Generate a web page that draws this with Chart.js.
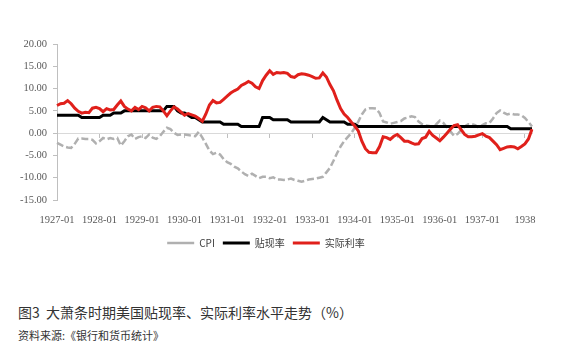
<!DOCTYPE html>
<html><head><meta charset="utf-8">
<script src="https://cdn.jsdelivr.net/npm/chart.js@4.4.1/dist/chart.umd.min.js"></script>
<style>
html,body{margin:0;padding:0;background:#fff;}
#wrap{position:relative;width:573px;height:363px;overflow:hidden;}
#c{position:absolute;left:0;top:0;}
.cap{position:absolute;font-family:"Noto Sans CJK SC",sans-serif;color:#333;white-space:nowrap;}
#t1{left:18px;top:302px;font-size:14px;}
#t2{left:18px;top:327px;font-size:11px;}
</style></head>
<body><div id="wrap"><canvas id="c" width="573" height="262"></canvas>
<div class="cap" id="t1">图3&nbsp; 大萧条时期美国贴现率、实际利率水平走势（%）</div>
<div class="cap" id="t2">资料来源:《银行和货币统计》</div></div>
<script>
// monthly categories 1927-01 .. 1938-03
const startYear = 1927, monthCount = 135;
const months = [];
for (let i = 0; i < monthCount; i++) {
  const y = startYear + Math.floor(i / 12), m = (i % 12) + 1;
  months.push(y + '-' + (m < 10 ? '0' + m : m));
}
const yearTickLabels = ['1927-01','1928-01','1929-01','1930-01','1931-01','1932-01','1933-01','1934-01','1935-01','1936-01','1937-01','1938'];
const yTicks = [-15, -10, -5, 0, 5, 10, 15, 20];

const cpi = [
 -2.2,-2.6,-3.0,-3.2,-3.3,-2.4,-1.2,-1.2,-1.3,-1.3,-1.5,-2.3,
 -1.8,-1.1,-1.4,-1.1,-1.3,-1.1,-2.8,-1.8,-0.7,-0.3,-1.3,-0.9,
 -0.7,-1.1,-0.3,-1.0,-1.3,-0.7,0.3,1.2,0.9,0.1,-0.4,-0.3,
 -0.3,-0.4,-0.6,-0.7,0.3,-1.0,-2.4,-3.9,-4.7,-4.4,-4.8,-5.8,
 -6.5,-6.9,-7.5,-7.9,-8.6,-9.2,-9.6,-9.1,-9.6,-10.1,-9.8,-9.8,
 -10.1,-9.9,-10.4,-10.4,-10.5,-10.4,-10.2,-10.5,-10.7,-10.9,-10.7,-10.4,
 -10.3,-10.2,-10.0,-9.8,-8.8,-7.8,-6.2,-4.5,-3.0,-1.8,-0.9,0.0,
 1.2,2.6,4.2,5.3,5.6,5.6,5.5,4.5,2.6,2.4,2.1,2.3,
 2.5,2.7,3.3,3.5,3.8,3.6,2.6,2.0,1.7,1.6,1.4,2.0,
 2.8,2.3,1.3,0.4,-0.6,-0.2,0.7,1.5,2.0,2.0,1.8,1.2,
 1.8,2.2,2.3,3.3,4.5,5.1,4.6,4.2,4.4,4.2,4.2,4.0,
 3.4,2.5,1.5
];
const discountRate = [
 4.0,4.0,4.0,4.0,4.0,4.0,4.0,3.5,3.5,3.5,3.5,3.5,
 3.5,4.0,4.0,4.0,4.5,4.5,4.5,5.0,5.0,5.0,5.0,5.0,
 5.0,5.0,5.0,5.0,5.0,5.0,5.0,6.0,6.0,6.0,5.0,4.5,
 4.5,4.0,3.5,3.5,3.0,2.5,2.5,2.5,2.5,2.5,2.5,2.0,
 2.0,2.0,2.0,2.0,1.5,1.5,1.5,1.5,1.5,1.5,3.5,3.5,
 3.5,3.0,3.0,3.0,3.0,3.0,2.5,2.5,2.5,2.5,2.5,2.5,
 2.5,2.5,2.5,3.5,3.0,2.5,2.5,2.5,2.5,2.5,2.0,2.0,
 2.0,1.5,1.5,1.5,1.5,1.5,1.5,1.5,1.5,1.5,1.5,1.5,
 1.5,1.5,1.5,1.5,1.5,1.5,1.5,1.5,1.5,1.5,1.5,1.5,
 1.5,1.5,1.5,1.5,1.5,1.5,1.5,1.5,1.5,1.5,1.5,1.5,
 1.5,1.5,1.5,1.5,1.5,1.5,1.5,1.5,1.0,1.0,1.0,1.0,
 1.0,1.0,1.0
];
const realRate = [
 6.2,6.6,6.7,7.3,6.6,5.6,4.9,4.5,4.7,4.6,5.6,5.8,
 5.5,4.8,5.5,5.2,5.3,6.3,7.2,6.0,5.4,5.0,5.8,5.3,
 6.0,5.7,5.0,5.8,6.0,5.9,5.0,3.9,5.0,5.9,5.4,4.7,
 4.0,4.4,4.1,3.8,3.3,2.7,4.3,6.3,7.3,6.8,6.9,7.6,
 8.3,9.0,9.5,9.9,10.7,11.1,11.6,11.2,10.4,10.0,11.8,13.0,
 14.0,13.2,13.6,13.5,13.6,13.4,12.7,12.5,13.1,13.3,13.2,13.0,
 12.7,12.3,12.4,13.5,12.6,10.9,9.5,7.4,5.5,4.3,3.5,2.5,
 1.6,0.5,-1.8,-3.5,-4.3,-4.4,-4.4,-3.0,-0.8,-1.0,-1.4,-0.7,
 -0.3,-1.0,-1.8,-1.8,-2.2,-2.5,-2.4,-1.2,-0.9,0.4,-0.5,-1.1,
 -1.7,-0.9,0.0,0.9,1.7,1.9,0.8,-0.3,-0.8,-0.8,-0.7,-0.4,
 -0.1,-0.7,-1.0,-1.8,-2.6,-3.7,-3.4,-3.1,-3.0,-3.1,-3.5,-3.0,
 -2.4,-1.3,0.9
];

const tickFont = {family: '"Liberation Serif", "Times New Roman", serif', size: 10.5};
const tickColor = '#595959';

new Chart(document.getElementById('c'), {
  type: 'line',
  data: {
    labels: months,
    datasets: [
      {label: 'CPI', data: cpi, borderColor: '#b0b0b0', backgroundColor: '#b0b0b0', borderWidth: 2.5, borderDash: [7, 3], pointRadius: 0, order: 3},
      {label: '贴现率', data: discountRate, borderColor: '#000000', backgroundColor: '#000000', borderWidth: 3, pointRadius: 0, order: 2},
      {label: '实际利率', data: realRate, borderColor: '#e0201b', backgroundColor: '#e0201b', borderWidth: 3, pointRadius: 0, order: 1}
    ]
  },
  options: {
    responsive: false,
    animation: false,
    layout: {padding: {left: 0, right: 41, top: 44, bottom: 4}},
    plugins: {
      tooltip: {enabled: false},
      legend: {
        position: 'bottom',
        labels: {
          usePointStyle: true, pointStyle: 'line', pointStyleWidth: 27,
          padding: 8, color: '#404040',
          font: {family: '"Noto Sans CJK SC", sans-serif', size: 10},
          sort: (a, b) => a.datasetIndex - b.datasetIndex
        }
      }
    },
    scales: {
      x: {
        type: 'category',
        position: 'bottom',
        offset: false,
        border: {display: false},
        grid: {display: false},
        ticks: {
          autoSkip: false, maxRotation: 0, minRotation: 0, padding: 6,
          color: tickColor, font: tickFont,
          callback: (v, i) => (i % 12 === 0 ? (yearTickLabels[i / 12] || '') : '')
        },
        afterFit: s => { s.height = 30; }
      },
      x2: {
        type: 'category',
        position: {y: 0},
        offset: false,
        border: {display: true, color: '#d9d9d9', width: 1},
        grid: {
          display: true, drawOnChartArea: false, drawTicks: true, tickLength: 4,
          tickColor: c => (c.index % 12 === 0 ? '#bfbfbf' : 'rgba(0,0,0,0)')
        },
        ticks: {display: false}
      },
      y: {
        min: -15, max: 20,
        afterBuildTicks: s => { s.ticks = yTicks.map(v => ({value: v})); },
        border: {display: true, color: '#bfbfbf', width: 1},
        grid: {display: true, drawOnChartArea: false, drawTicks: true, tickLength: 4, tickColor: '#bfbfbf'},
        ticks: {padding: 6, color: tickColor, font: tickFont, callback: v => Number(v).toFixed(2)},
        afterFit: s => { s.width = 57; }
      }
    }
  }
});
</script></body></html>
